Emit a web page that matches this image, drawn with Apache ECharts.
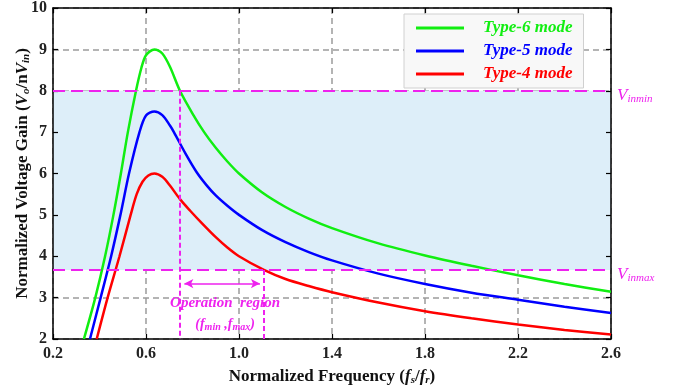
<!DOCTYPE html>
<html>
<head>
<meta charset="utf-8">
<script src="https://cdn.jsdelivr.net/npm/echarts@6/dist/echarts.min.js"></script>
<style>
  html, body { margin: 0; padding: 0; background: #fff; }
  #chart { width: 680px; height: 391px; }
</style>
</head>
<body>
<div id="chart"></div>
<script>
// values: [fs/fr, gain]
const type6 = [
  [0.333, 2], [0.382, 3], [0.424, 4], [0.46, 5], [0.492, 6], [0.522, 7], [0.557, 8],
  [0.58, 8.55], [0.60, 8.86], [0.636, 9.0], [0.67, 8.9], [0.703, 8.58], [0.746, 8.0],
  [0.8, 7.45], [0.85, 7.0], [0.9, 6.62], [0.95, 6.29], [1.0, 6.0], [1.1, 5.54],
  [1.2, 5.19], [1.3, 4.91], [1.4, 4.68], [1.6, 4.31], [1.8, 4.02], [2.0, 3.77],
  [2.2, 3.54], [2.4, 3.33], [2.6, 3.14]
]
const type5 = [
  [0.359, 2], [0.405, 3], [0.45, 4], [0.49, 5], [0.527, 6], [0.572, 7.0],
  [0.60, 7.4], [0.636, 7.5], [0.67, 7.41], [0.703, 7.16], [0.72, 7.0], [0.77, 6.48],
  [0.818, 6.03], [0.86, 5.72], [0.9, 5.47], [0.95, 5.22], [1.0, 5.0], [1.1, 4.63],
  [1.2, 4.34], [1.3, 4.1], [1.4, 3.9], [1.6, 3.58], [1.8, 3.33], [2.0, 3.12],
  [2.2, 2.95], [2.4, 2.78], [2.6, 2.63]
]
const type4 = [
  [0.388, 2], [0.435, 3], [0.486, 4], [0.534, 5], [0.56, 5.5], [0.585, 5.8],
  [0.61, 5.95], [0.636, 6.0], [0.67, 5.92], [0.703, 5.71], [0.746, 5.38], [0.79, 5.1],
  [0.84, 4.8], [0.9, 4.46], [0.95, 4.21], [1.0, 4.0], [1.107, 3.67], [1.2, 3.45],
  [1.3, 3.28], [1.4, 3.13], [1.6, 2.88], [1.8, 2.67], [2.0, 2.5], [2.2, 2.35],
  [2.4, 2.22], [2.6, 2.11]
]
const seriesNames = ['Type-6 mode', 'Type-5 mode', 'Type-4 mode']
const seriesColors = ['#11ee11', '#0000ff', '#ff0000']

const vInMin = 8
const vInMax = 3.67
const fMin = 0.746
const fMax = 1.107
const arrowY = 3.34
const arrowX = [0.765, 1.09]

const FONT = '"Liberation Serif", "Times New Roman", serif'
const MAGENTA = '#ee22ee'
const GRID_LINE = { show: true, lineStyle: { color: '#9c9c9c', width: 1.5, type: [6, 4] } }

const chart = echarts.init(document.getElementById('chart'))

function curve(name, data, color) {
  return {
    name: name,
    type: 'line',
    data: data,
    smooth: 0.3,
    showSymbol: false,
    symbol: 'none',
    z: 3,
    lineStyle: { color: color, width: 2.5 },
    itemStyle: { color: color },
  }
}

const nameRich = {
  b: { fontFamily: FONT, fontSize: 17, fontWeight: 'bold', color: '#111' },
  i: { fontFamily: FONT, fontSize: 17, fontWeight: 'bold', fontStyle: 'italic', color: '#111' },
  s: { fontFamily: FONT, fontSize: 11, fontWeight: 'bold', fontStyle: 'italic', color: '#111', verticalAlign: 'bottom', padding: [7, 0, 0, 0] },
}
const sideAxis = {
  type: 'value',
  z: 1,
  axisLine: { show: true, lineStyle: { color: '#000', width: 1.5 } },
  axisTick: { show: true, inside: true, length: 5, lineStyle: { color: '#000', width: 1.2 } },
  axisLabel: { show: false },
  splitLine: { show: false },
}

const option = {
  animation: false,
  textStyle: { fontFamily: FONT },
  grid: { left: 53, right: 69, top: 7, bottom: 49, containLabel: false },
  legend: {
    left: 404,
    top: 14,
    orient: 'vertical',
    padding: [4, 11, 4, 12],
    backgroundColor: '#f8f8f8',
    borderColor: '#d0d0d0',
    borderWidth: 1,
    itemWidth: 48,
    itemHeight: 3,
    itemGap: 3,
    icon: 'rect',
    data: seriesNames.map((n, i) => ({
      name: n,
      textStyle: { color: seriesColors[i] },
    })),
    textStyle: {
      fontFamily: FONT,
      fontSize: 17,
      fontStyle: 'italic',
      fontWeight: 'bold',
      lineHeight: 20,
      padding: [0, 0, 0, 14],
    },
  },
  xAxis: [
    {
      type: 'value',
      min: 0.2,
      max: 2.6,
      interval: 0.4,
      z: 1,
      name: '{b|Normalized Frequency (}{i|f}{s|s}{b|/}{i|f}{s|r}{b|)}',
      nameLocation: 'middle',
      nameGap: 29,
      nameMoveOverlap: false,
      nameTextStyle: { rich: nameRich },
      axisLine: { show: true, onZero: false, lineStyle: { color: '#000', width: 1.5 } },
      axisTick: { show: true, inside: true, length: 5, lineStyle: { color: '#000', width: 1.2 } },
      splitLine: GRID_LINE,
      axisLabel: {
        color: '#222',
        fontSize: 16,
        fontWeight: 'bold',
        fontFamily: FONT,
        margin: 7,
        formatter: v => v.toFixed(1),
      },
    },
    Object.assign({}, sideAxis, { position: 'top', min: 0.2, max: 2.6, interval: 0.4 }),
  ],
  yAxis: [
    {
      type: 'value',
      min: 2,
      max: 10,
      interval: 1,
      z: 1,
      name: '{b|Normalized Voltage Gain (}{i|V}{s|o}{b|/n}{i|V}{s|in}{b|)}',
      nameLocation: 'middle',
      nameGap: 21,
      nameMoveOverlap: false,
      nameTextStyle: { rich: nameRich },
      axisLine: { show: true, onZero: false, lineStyle: { color: '#000', width: 1.5 } },
      axisTick: { show: true, inside: true, length: 5, lineStyle: { color: '#000', width: 1.2 } },
      splitLine: GRID_LINE,
      axisLabel: {
        color: '#222',
        fontSize: 16,
        fontWeight: 'bold',
        fontFamily: FONT,
        margin: 6,
      },
    },
    Object.assign({}, sideAxis, { position: 'right', min: 2, max: 10, interval: 1 }),
  ],
  series: [
    {
      name: 'band',
      type: 'line',
      data: [],
      z: 0,
      silent: true,
      markArea: {
        silent: true,
        itemStyle: { color: '#ddeef9' },
        data: [[{ yAxis: vInMax }, { yAxis: vInMin }]],
      },
    },
    {
      name: 'marks',
      type: 'line',
      data: [],
      z: 2,
      silent: true,
      markLine: {
        silent: true,
        symbol: 'none',
        animation: false,
        lineStyle: { color: MAGENTA, width: 2, type: [12, 6] },
        label: {
          show: true,
          position: 'end',
          distance: 6,
          offset: [0, 5],
          rich: {
            v: { fontFamily: FONT, fontSize: 17, fontStyle: 'italic', color: MAGENTA },
            s: { fontFamily: FONT, fontSize: 11, fontStyle: 'italic', color: MAGENTA, verticalAlign: 'bottom', padding: [7, 0, 0, 0] },
          },
        },
        data: [
          { yAxis: vInMin, label: { formatter: '{v|V}{s|inmin}' } },
          { yAxis: vInMax, label: { formatter: '{v|V}{s|inmax}' } },
          [
            { coord: [fMin, vInMin], lineStyle: { type: [5, 3], width: 2 }, label: { show: false } },
            { coord: [fMin, 2] },
          ],
          [
            { coord: [fMax, vInMax], lineStyle: { type: [5, 3], width: 2 }, label: { show: false } },
            { coord: [fMax, 2] },
          ],
          [
            { coord: [arrowX[0], arrowY], symbol: 'arrow', symbolSize: [7, 9], lineStyle: { type: 'solid', width: 1.5 }, label: { show: false } },
            { coord: [arrowX[1], arrowY], symbol: 'arrow', symbolSize: [7, 9] },
          ],
        ],
      },
      markPoint: {
        silent: true,
        symbol: 'circle',
        symbolSize: 0,
        label: {
          show: true,
          position: 'inside',
          rich: {
            t: { fontFamily: FONT, fontSize: 15, fontStyle: 'italic', fontWeight: 'bold', color: MAGENTA },
            f: { fontFamily: FONT, fontSize: 14, fontStyle: 'italic', fontWeight: 'bold', color: MAGENTA },
            s: { fontFamily: FONT, fontSize: 10, fontStyle: 'italic', fontWeight: 'bold', color: MAGENTA, verticalAlign: 'bottom', padding: [6, 0, 0, 0] },
          },
        },
        data: [
          { coord: [0.94, 2.86], label: { formatter: '{t|Operation  region}' } },
          { coord: [0.94, 2.35], label: { formatter: '{f|(f}{s|min}{f| ,f}{s|max}{f|)}' } },
        ],
      },
    },
    curve(seriesNames[0], type6, seriesColors[0]),
    curve(seriesNames[1], type5, seriesColors[1]),
    curve(seriesNames[2], type4, seriesColors[2]),
  ],
}

chart.setOption(option)
</script>
</body>
</html>
